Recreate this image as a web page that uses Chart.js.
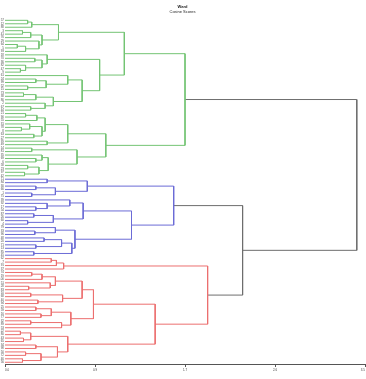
<!DOCTYPE html>
<html>
<head>
<meta charset="utf-8">
<script src="https://cdn.jsdelivr.net/npm/chart.js@4"></script>
<style>
html,body{margin:0;padding:0;background:#fff;}
canvas{display:block;}
</style>
</head>
<body>
<canvas id="c" width="366" height="379"></canvas>
<script>
// ---- data ----
const titleText = "Ward";
const subtitleText = "Cosine Scores";
const leafLabels = [
  "57","12","88","3","41","76","29","64","5","93","18","70","36","82","47","9","61","24","99","52",
  "15","73","38","86","2","67","44","21","90","55","31","78","8","63","27","95","49","14","81","35",
  "69","6","58","23","97","42",
  "11","84","30","66","1","75","39","92","17","54","87","26","60","4","79","33","96","48","20","71",
  "13","85","45",
  "62","7","91","37","74","19","100","51","28","83","10","68","40","94","25","59","16","77","32","89",
  "53","22","80","43","65","34","98","50","72","46","56"
];
const tickValues = [0, 0.875, 1.75, 2.625, 3.5];
const tickLabels = ["0.0", "0.9", "1.7", "2.6", "3.5"];

// clusters: [height, left, right]; a number is a leaf position
const greenTree = [1.75,
  [1.16,
    [0.52,
      [0.26, [0.22, 0, 1], 2],
      [0.36, [0.25, [0.17, 3, 4], 5], [0.33, 6, [0.2, [0.12, 7, 8], 9]]]],
    [0.92,
      [0.41, 10, [0.36, [0.29, 11, 12], [0.2, 13, [0.15, 14, 15]]]],
      [0.75,
        [0.61, 16, [0.4, [0.3, 17, 18], [0.22, 19, 20]]],
        [0.47, [0.3, [0.18, 21, 22], 23], [0.39, 24, [0.25, 25, 26]]]]]],
  [0.98,
    [0.61,
      [0.39, [0.31, [0.2, 27, 28], 29], [0.36, [0.24, 30, [0.16, 31, 32]], [0.28, 33, 34]]],
      [0.41, 35, 36]],
    [0.70,
      [0.26, 37, 38],
      [0.42, [0.36, 39, [0.3, 40, 41]], [0.33, [0.22, 42, 43], [0.19, 44, 45]]]]]];

const blueTree = [1.64,
  [0.80, [0.41, 46, 47], [0.49, [0.3, 48, 49], [0.26, 50, 51]]],
  [1.23,
    [0.76, [0.63, 52, [0.41, 53, [0.3, 54, 55]]], [0.47, [0.28, 56, 57], [0.22, 58, 59]]],
    [0.68, [0.49, 60, [0.29, 61, 62]], [0.65, [0.55, [0.38, 63, 64], [0.3, 65, 66]], [0.28, 67, 68]]]]];

const redTree = [1.97,
  [0.57, [0.5, [0.45, 69, 70], 71], 72],
  [1.46,
    [0.86,
      [0.75,
        [0.49, [0.36, [0.26, 73, 74], 75], [0.44, 76, [0.23, 77, 78]]],
        [0.56, [0.25, 79, 80], [0.32, 81, 82]]],
      [0.64, [0.45, [0.3, 83, 84], [0.35, 85, 86]], [0.55, [0.25, 87, 88], 89]]],
    [0.61,
      [0.25, [0.15, 90, 91], [0.18, 92, 93]],
      [0.51, [0.3, 94, 95], [0.35, [0.2, 96, 97], [0.17, 98, 99]]]]]];

const blueRedHeight = 2.31;
const rootHeight = 3.42;

const colors = { green: "#74c474", blue: "#6b6bd6", red: "#ec6f6f", above: "#6e6e6e" };

// ---- build links ----
const links = [];
function walk(node, color) {
  if (typeof node === "number") return { y: node, h: 0 };
  const [h, a, b] = node;
  const A = walk(a, color), B = walk(b, color);
  links.push({ color, pts: [{x: A.h, y: A.y}, {x: h, y: A.y}, {x: h, y: B.y}, {x: B.h, y: B.y}] });
  return { y: (A.y + B.y) / 2, h };
}
function join(A, B, h, color) {
  links.push({ color, pts: [{x: A.h, y: A.y}, {x: h, y: A.y}, {x: h, y: B.y}, {x: B.h, y: B.y}] });
  return { y: (A.y + B.y) / 2, h };
}
const G = walk(greenTree, colors.green);
const Bl = walk(blueTree, colors.blue);
const R = walk(redTree, colors.red);
const BR = join(Bl, R, blueRedHeight, colors.above);
join(G, BR, rootHeight, colors.above);

const datasets = links.map(l => ({
  data: l.pts,
  showLine: true,
  borderColor: l.color,
  borderWidth: 1,
  pointRadius: 0,
  pointHoverRadius: 0,
  fill: false,
  tension: 0
}));

new Chart(document.getElementById("c"), {
  type: "scatter",
  data: { datasets },
  options: {
    responsive: false,
    animation: false,
    devicePixelRatio: 1,
    layout: { padding: { top: 1, right: 1, left: 0, bottom: 0 } },
    plugins: {
      legend: { display: false },
      tooltip: { enabled: false },
      title: {
        display: true, text: titleText, color: "#222",
        font: { family: "Liberation Sans", size: 4, weight: "bold" },
        padding: { top: 3, bottom: 1 }
      },
      subtitle: {
        display: true, text: subtitleText, color: "#222",
        font: { family: "Liberation Sans", size: 4 },
        padding: { top: 0, bottom: 4 }
      }
    },
    scales: {
      x: {
        type: "linear", min: 0, max: 3.5,
        afterBuildTicks: s => { s.ticks = tickValues.map(v => ({ value: v })); },
        ticks: {
          callback: (v, i) => tickLabels[i],
          font: { family: "Liberation Sans", size: 3 }, color: "#444",
          padding: 1, maxRotation: 0, autoSkip: false, align: "inner"
        },
        grid: { display: true, drawOnChartArea: false, drawTicks: true, tickLength: 3, color: "#555" },
        border: { display: true, color: "#555", width: 1 },
        afterFit: s => { s.height = 15; }
      },
      y: {
        type: "linear", min: -0.5, max: leafLabels.length - 0.5, reverse: true,
        afterBuildTicks: s => { s.ticks = leafLabels.map((_, i) => ({ value: i })); },
        ticks: {
          callback: v => leafLabels[v],
          font: { family: "Liberation Sans", size: 3 }, color: "#555",
          padding: 1, autoSkip: false
        },
        grid: { display: false, drawTicks: false },
        border: { display: false },
        afterFit: s => { s.width = 5; }
      }
    }
  }
});
</script>
</body>
</html>
